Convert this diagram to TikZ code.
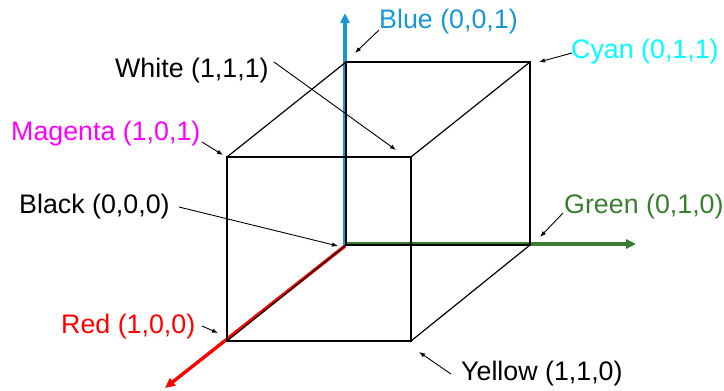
\documentclass[tikz,border=0pt]{standalone}
\usepackage{fontspec}
\setmainfont{Liberation Sans}
\usetikzlibrary{arrows.meta}
\definecolor{cblue}{RGB}{25,150,215}
\definecolor{ccyan}{RGB}{0,255,255}
\definecolor{cmag}{RGB}{255,0,255}
\definecolor{cgreen}{RGB}{58,125,48}
\definecolor{cred}{RGB}{255,0,0}
\begin{document}
\begin{tikzpicture}[x=1pt,y=-1pt,
  edge/.style={black,line width=1.2pt,line join=miter},
  axis/.style={line width=3.4pt,-{Triangle[length=10pt,width=9pt]}},
  lab/.style={black,line width=0.9pt,-{Latex[length=6pt,width=4.5pt]}},
  txt/.style={anchor=base west,inner sep=0pt,font=\fontsize{26.8}{30}\selectfont}]
\useasboundingbox (0,0) rectangle (724,391);
% cube corners
\coordinate (K) at (346,245);
\coordinate (B) at (346,62);
\coordinate (C) at (530,62);
\coordinate (G) at (530,245);
\coordinate (M) at (227,157);
\coordinate (W) at (411,157);
\coordinate (R) at (227,341);
\coordinate (Y) at (411,341);
% axis ends
\coordinate (Bend) at (346,13);
\coordinate (Gend) at (636,245);
\coordinate (Rend) at (165,388);
% axes
\draw[axis,cblue] ([xshift=-1pt]K) -- ([xshift=-1pt]Bend);
\draw[axis,cgreen] ([yshift=1pt]K) -- ([yshift=1pt]Gend);
\draw[axis,cred] ([xshift=-1pt,yshift=-1pt]K) -- (Rend);
% cube edges
\draw[edge] (M) -- (W) -- (Y) -- (R) -- cycle;
\draw[edge] (B) -- (C) -- (G) -- (K) -- cycle;
\draw[edge] (M) -- (B);
\draw[edge] (W) -- (C);
\draw[edge] (Y) -- (G);
\draw[edge] (R) -- (K);
% labels
\node[txt,text=cblue] (lblue) at (379,28) {Blue (0,0,1)};
\node[txt,text=ccyan] (lcyan) at (571,58) {Cyan (0,1,1)};
\node[txt] (lwhite) at (115,77) {White (1,1,1)};
\node[txt,text=cmag] (lmag) at (11,140) {Magenta (1,0,1)};
\node[txt] (lblack) at (19,213) {Black (0,0,0)};
\node[txt,text=cgreen] (lgreen) at (564,213) {Green (0,1,0)};
\node[txt,text=cred] (lred) at (61,333) {Red (1,0,0)};
\node[txt] (lyellow) at (461,380) {Yellow (1,1,0)};
% arrow ends
\coordinate (sblue) at (379,30);   \coordinate (tblue) at (355,53);
\coordinate (scyan) at (572,53);   \coordinate (tcyan) at (539,62);
\coordinate (swhite) at (274,62);  \coordinate (twhite) at (396,150);
\coordinate (smag) at (202,142);   \coordinate (tmag) at (223,155);
\coordinate (sblack) at (179,207); \coordinate (tblack) at (338,246);
\coordinate (sgreen) at (563,213); \coordinate (tgreen) at (540,237);
\coordinate (sred) at (202,326);   \coordinate (tred) at (218,333);
\coordinate (syellow) at (451,374);\coordinate (tyellow) at (419,352);
\draw[lab] (sblue) -- (tblue);
\draw[lab] (scyan) -- (tcyan);
\draw[lab] (swhite) -- (twhite);
\draw[lab] (smag) -- (tmag);
\draw[lab] (sblack) -- (tblack);
\draw[lab] (sgreen) -- (tgreen);
\draw[lab] (sred) -- (tred);
\draw[lab] (syellow) -- (tyellow);
\end{tikzpicture}
\end{document}
